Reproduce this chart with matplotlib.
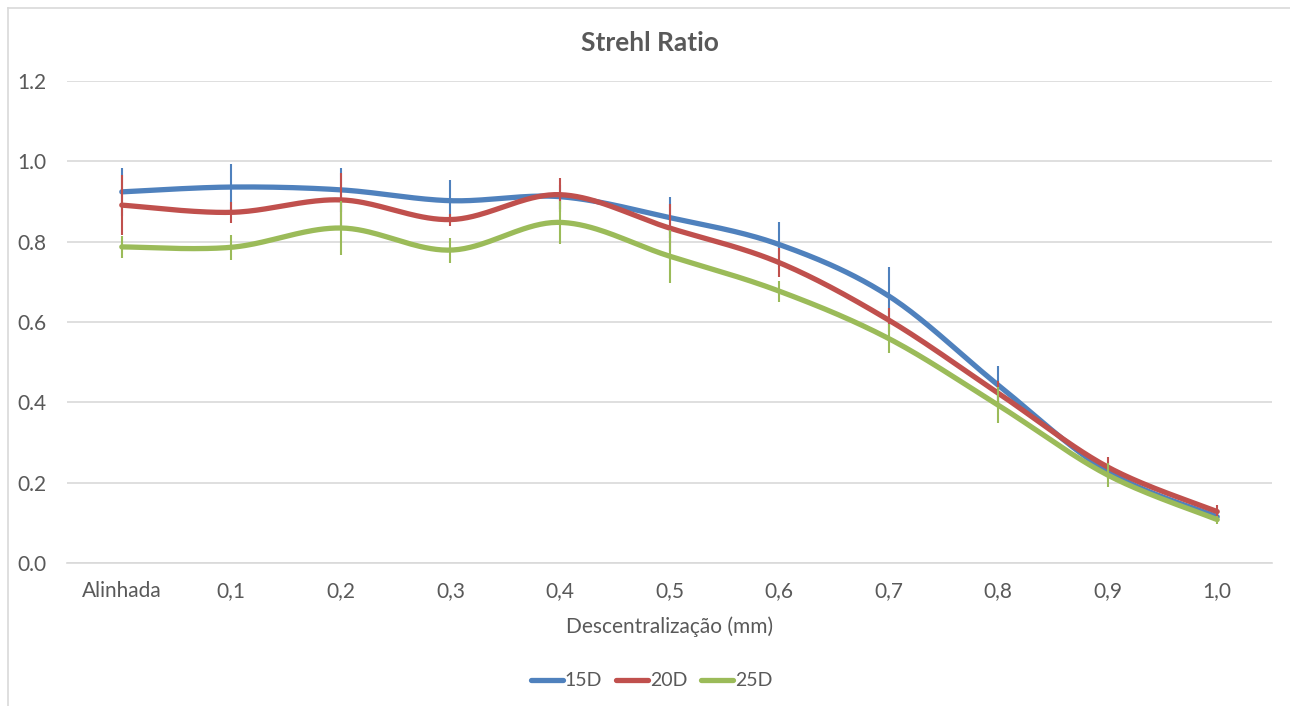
import numpy as np
import matplotlib
matplotlib.use("Agg")
import matplotlib.pyplot as plt
from matplotlib.lines import Line2D

categories = ["Alinhada", "0,1", "0,2", "0,3", "0,4", "0,5", "0,6", "0,7", "0,8", "0,9", "1,0"]
series_names = ["15D", "20D", "25D"]
values_15d = [0.924, 0.936, 0.929, 0.902, 0.912, 0.860, 0.793, 0.665, 0.443, 0.228, 0.115]
values_20d = [0.891, 0.873, 0.904, 0.855, 0.917, 0.834, 0.748, 0.605, 0.423, 0.239, 0.128]
values_25d = [0.787, 0.786, 0.834, 0.779, 0.848, 0.764, 0.677, 0.559, 0.393, 0.219, 0.108]
err_15d = [0.060, 0.057, 0.055, 0.052, 0.030, 0.050, 0.057, 0.072, 0.047, 0.020, 0.012]
err_20d = [0.075, 0.027, 0.068, 0.015, 0.042, 0.060, 0.035, 0.030, 0.030, 0.025, 0.017]
err_25d = [0.027, 0.031, 0.068, 0.031, 0.053, 0.066, 0.026, 0.037, 0.045, 0.030, 0.010]
y_ticks = [0.0, 0.2, 0.4, 0.6, 0.8, 1.0, 1.2]

colors = ["#4F81BD", "#C0504D", "#9BBB59"]
text_color = "#595959"
grid_color = "#D9D9D9"

plt.rcParams["font.family"] = ["Lato", "DejaVu Sans"]


def smooth(xs, ys, n=40):
    """Smoothed curve through the points using cubic Bezier segments."""
    xs = np.asarray(xs, float)
    ys = np.asarray(ys, float)
    px = np.concatenate([[xs[0]], xs, [xs[-1]]])
    py = np.concatenate([[ys[0]], ys, [ys[-1]]])
    out_x, out_y = [], []
    t = np.linspace(0, 1, n)
    for i in range(1, len(px) - 2):
        p0 = np.array([px[i - 1], py[i - 1]])
        p1 = np.array([px[i], py[i]])
        p2 = np.array([px[i + 1], py[i + 1]])
        p3 = np.array([px[i + 2], py[i + 2]])
        c1 = p1 + (p2 - p0) / 6.0
        c2 = p2 - (p3 - p1) / 6.0
        b = ((1 - t) ** 3)[:, None] * p1 + (3 * (1 - t) ** 2 * t)[:, None] * c1 \
            + (3 * (1 - t) * t ** 2)[:, None] * c2 + (t ** 3)[:, None] * p2
        out_x.extend(b[:, 0])
        out_y.extend(b[:, 1])
    return np.array(out_x), np.array(out_y)


fig = plt.figure(figsize=(12.9, 7.06), dpi=100)
ax = fig.add_axes([67 / 1290, 1 - 563 / 706, (1272 - 67) / 1290, (563 - 81) / 706])

x = np.arange(len(categories))
all_vals = [values_15d, values_20d, values_25d]
all_errs = [err_15d, err_20d, err_25d]
for k, (vals, errs, col, name) in enumerate(zip(all_vals, all_errs, colors, series_names)):
    sx, sy = smooth(x, vals)
    z = 3 + 2 * k
    ax.plot(sx, sy, color=col, lw=3.8, solid_capstyle="round", zorder=z, label=name)
    ax.errorbar(x, vals, yerr=errs, fmt="none", ecolor=col, elinewidth=1.5,
                capsize=0, zorder=z - 0.5)

ax.set_xlim(-0.5, len(categories) - 0.5)
ax.set_ylim(0, 1.2)
ax.set_yticks(y_ticks)
ax.set_yticklabels([f"{v:.1f}" for v in y_ticks])
ax.set_xticks(x)
ax.set_xticklabels(categories)
ax.tick_params(axis="both", length=0, labelsize=15, labelcolor=text_color)
ax.tick_params(axis="y", pad=15)
ax.tick_params(axis="x", pad=13)
ax.grid(axis="y", color=grid_color, lw=1.2)
ax.set_axisbelow(True)
for side in ["top", "right", "left"]:
    ax.spines[side].set_visible(False)
ax.spines["bottom"].set_color(grid_color)
ax.spines["bottom"].set_linewidth(1.2)

ax.set_xlabel("Descentralização (mm)", fontsize=15, color=text_color, labelpad=11)
fig.text(0.504, 1 - 43 / 706, "Strehl Ratio", ha="center", va="center",
         fontsize=19, fontweight="bold", color=text_color)

handles = [Line2D([0], [0], color=c, lw=3.8, solid_capstyle="round") for c in colors]
fig.legend(handles, series_names, loc="center", bbox_to_anchor=(0.505, 1 - 681 / 706),
           ncol=3, frameon=False, fontsize=14, labelcolor=text_color,
           handlelength=1.65, handletextpad=0.1, columnspacing=0.7)

# chart area border
fig.add_artist(Line2D([8 / 1290, 8 / 1290], [0, 1 - 8 / 706], color=grid_color, lw=1.2,
                      transform=fig.transFigure))
fig.add_artist(Line2D([8 / 1290, 1], [1 - 8 / 706, 1 - 8 / 706], color=grid_color, lw=1.2,
                      transform=fig.transFigure))

fig.savefig("out.png", dpi=100, facecolor="white")
